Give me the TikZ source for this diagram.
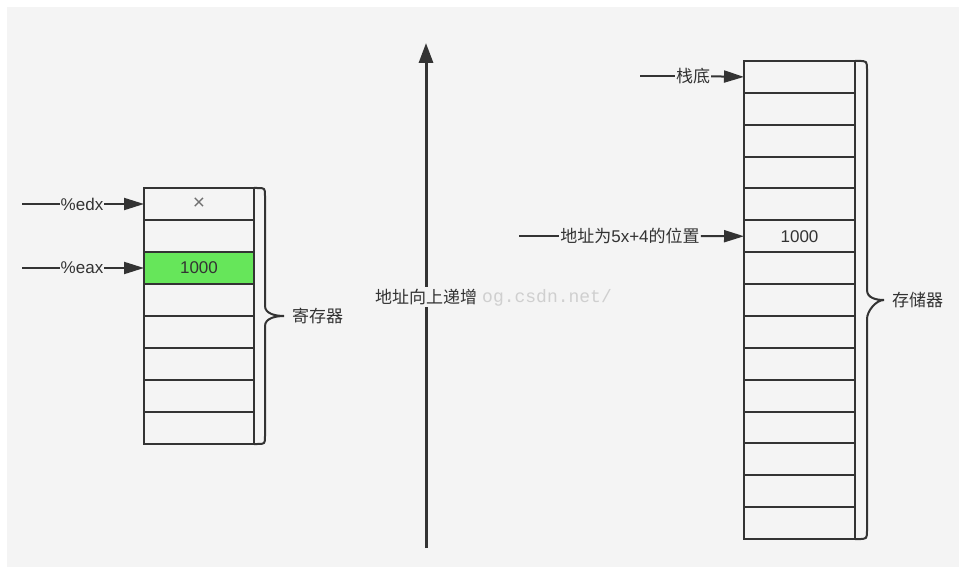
\documentclass[tikz,border=0pt]{standalone}
\usepackage{fontspec}
\setmainfont{Liberation Sans}
\newfontfamily\cjk{Noto Sans CJK SC}
\newfontfamily\wmfont{Liberation Mono}
\usetikzlibrary{arrows.meta}
\definecolor{bgc}{HTML}{F4F4F4}
\definecolor{ink}{HTML}{333333}
\definecolor{cellgreen}{HTML}{66E65A}
\definecolor{wmgray}{HTML}{CFCFCF}
\tikzset{
  cell/.style={draw=ink, line width=2pt, minimum width=110pt, minimum height=32pt,
    inner sep=0pt, outer sep=0pt, font=\fontsize{17}{20}\selectfont, text=ink},
  mcell/.style={cell, minimum width=111pt, minimum height=31.87pt},
  lbl/.style={inner sep=1pt, font=\fontsize{17}{20}\selectfont, text=ink},
  wire/.style={draw=ink, line width=2pt},
  ptr/.style={wire, -{Triangle[length=20pt,width=12pt]}},
  bigarrow/.style={draw=ink, line width=3pt, -{Triangle[length=20pt,width=14pt]}},
  bracepath/.style={draw=ink, line width=2pt, line join=round},
}
\begin{document}
\begin{tikzpicture}[x=1pt,y=-1pt]
\useasboundingbox (0,0) rectangle (959,567);
\fill[white] (0,0) rectangle (959,567);
\fill[bgc] (7,7) rectangle (959,567);

% ---- registers ----
\foreach \i in {1,...,8}{
  \node[cell] (r\i) at (199,{204+32*(\i-1)}) {};
}
\node[cell, fill=cellgreen] (r3) at (199,268) {1000};
\node[text=ink!70, font=\fontsize{21}{22}\selectfont, inner sep=0pt] (rx) at (r1) {×};

\coordinate (edxsrc) at (22,204);
\node[lbl] (edx) at (82,204) {\%edx};
\draw[wire] (edxsrc) -- (edx);
\draw[ptr] (edx) -- (r1.west);

\coordinate (eaxsrc) at (22,268);
\node[lbl] (eax) at (82,268) {\%eax};
\draw[wire] (eaxsrc) -- (eax);
\draw[ptr] (eax) -- (r3.west);

\coordinate (rbt) at (r1.north east);
\coordinate (rbb) at (r8.south east);
\coordinate (rtip) at (284,316);
\draw[bracepath] (rbt) -- ++(3,0) .. controls +(8,0) and +(0,-8) .. ++(8,8)
  |- ++(0,110) .. controls +(0,8) and +(-8,0) .. (rtip)
  (rbb) -- ++(3,0) .. controls +(8,0) and +(0,8) .. ++(8,-8)
  -- ++(0,-110) .. controls +(0,-8) and +(-8,0) .. (rtip);
\node[lbl, anchor=west, font=\cjk\fontsize{17}{20}\selectfont] (reglabel) at (291,316) {寄存器};

% ---- central arrow ----
\coordinate (abot) at (426,548);
\coordinate (atop) at (426,43);
\draw[bigarrow] (abot) -- (atop);
\node[lbl, fill=bgc, inner sep=2pt, font=\cjk\fontsize{17}{20}\selectfont] (grow) at (426,297) {地址向上递增};
\node[anchor=west, text=wmgray, font=\wmfont\fontsize{18}{20}\selectfont, inner sep=0pt] (wm) at (482,298) {og.csdn.net/};

% ---- memory ----
\foreach \i in {1,...,15}{
  \node[mcell] (m\i) at (799.5,{76.9+31.87*(\i-1)}) {};
}
\node[mcell] (m6) at (799.5,{76.9+31.87*5}) {1000};

\coordinate (botsrc) at (640,76);
\node[lbl, font=\cjk\fontsize{17}{20}\selectfont] (bot) at (693,76) {栈底};
\draw[wire] (botsrc) -- (bot);
\draw[ptr] (bot) -- (m1.west);

\coordinate (possrc) at (519,236);
\node[lbl, font=\cjk\fontsize{17}{20}\selectfont] (pos) at (630,236) {地址为\fontspec{Liberation Sans}5x+4\cjk 的位置};
\draw[wire] (possrc) -- (pos);
\draw[ptr] (pos) -- (m6.west);

\coordinate (mbt) at (m1.north east);
\coordinate (mbb) at (m15.south east);
\coordinate (mtip) at (884,300);
\draw[bracepath] (mbt) -- ++(3,0) .. controls +(9,0) and +(0,-9) .. ++(9,9)
  |- ++(0,220) .. controls +(0,8) and +(-8,0) .. (mtip)
  (mbb) -- ++(3,0) .. controls +(9,0) and +(0,9) .. ++(9,-9)
  -- ++(0,-211) .. controls +(0,-8) and +(-8,0) .. (mtip);
\node[lbl, anchor=west, font=\cjk\fontsize{17}{20}\selectfont] (memlabel) at (891,300) {存储器};
\end{tikzpicture}
\end{document}
